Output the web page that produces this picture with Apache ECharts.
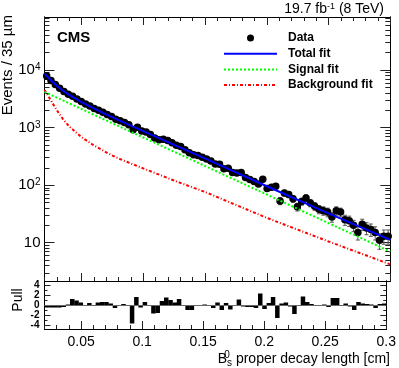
<!DOCTYPE html>
<html>
<head>
<meta charset="utf-8">
<script src="https://cdn.jsdelivr.net/npm/echarts@6/dist/echarts.min.js"></script>
<style>
html, body { margin: 0; padding: 0; background: #fff; }
#chart { width: 399px; height: 368px; }
</style>
</head>
<body>
<div id="chart"></div>
<script>
// binning of the decay length histogram (35 um bins)
var xMin = 0.02, xMax = 0.3, binW = 0.0035;

// events per bin
var dataCounts = [
    7875, 6600, 5602, 4825, 4224, 3791, 3485, 3140, 2826, 2560,
    2364, 2136, 1994, 1841, 1694, 1552, 1398, 1308, 1221, 1124,
    921, 1013, 876, 842, 758, 662, 614, 627, 597, 543,
    492, 471, 410, 364, 337, 328, 305, 285, 262, 233,
    231, 193, 197, 165, 163, 165, 136, 125, 116, 105,
    126, 87, 92, 96, 53, 73, 69, 58, 42, 52,
    60, 49, 43, 38, 36, 34, 28, 36, 34, 25,
    24, 20, 15, 21, 18, 17, 15, 11, 13, 13
];

// pull per bin
var pulls = [
    -0.5, -0.5, -0.5, -0.5, -0.4, 0.1, 1.2, 0.9, 0.5, 0.0,
    0.4, -0.2, 0.5, 0.6, 0.6, 0.3, -0.6, -0.1, 0.2, 0.0,
    -3.7, 1.6, -0.5, 0.6, -0.2, -1.7, -1.6, 0.8, 1.5, 1.0,
    0.5, 1.2, -0.2, -1.0, -1.0, -0.1, 0.0, 0.1, 0.0, -0.6,
    0.5, -1.0, 0.4, -0.9, -0.1, 1.1, -0.3, -0.4, -0.4, -0.6,
    2.3, -0.8, 0.4, 1.6, -2.6, 0.3, 0.5, -0.3, -1.8, 0.0,
    1.7, 0.6, 0.2, -0.1, 0.0, 0.1, -0.4, 1.4, 1.4, 0.0,
    0.3, -0.3, -1.0, 0.6, 0.3, 0.2, 0.1, -0.6, 0.2, 0.3
];

// fit curves, sampled along x
var fitX      = [0.02, 0.025, 0.03, 0.035, 0.04, 0.05, 0.06, 0.07, 0.08, 0.1, 0.125, 0.15, 0.2, 0.25, 0.3];
var totalFit  = [8670, 6720, 5320, 4360, 3690, 2780, 2160, 1700, 1350, 867, 500, 291, 95.6, 32.4, 11.2];
var signalFit = [4170, 3720, 3320, 2960, 2640, 2100, 1670, 1330, 1060, 672, 380, 215, 68.6, 21.9, 7.0];
var bkgFit    = [4500, 3000, 2000, 1400, 1050, 680, 490, 370, 290, 195, 120, 76, 27, 10.5, 4.2];

// ticks
var xMajorTicks = [0.05, 0.1, 0.15, 0.2, 0.25, 0.3];
var xMinorTicks = [0.02, 0.03, 0.04, 0.05, 0.06, 0.07, 0.08, 0.09, 0.1, 0.11, 0.12, 0.13, 0.14, 0.15,
    0.16, 0.17, 0.18, 0.19, 0.2, 0.21, 0.22, 0.23, 0.24, 0.25, 0.26, 0.27, 0.28, 0.29, 0.3];
var yMajorTicks = [10, 100, 1000, 10000];
var yTickExp = ['', '2', '3', '4'];
var yMinorTicks = [3, 4, 5, 6, 7, 8, 9, 20, 30, 40, 50, 60, 70, 80, 90,
    200, 300, 400, 500, 600, 700, 800, 900, 2000, 3000, 4000, 5000, 6000, 7000, 8000, 9000,
    20000, 30000, 40000, 50000, 60000, 70000, 80000];
var yMin = 2.16, yMax = 83400;
var pullMajorTicks = [-4, -2, 0, 2, 4];
var pullMinorTicks = [-3, -1, 1, 3];
var pullMin = -4.8, pullMax = 4.8;

var FONT = '"Liberation Sans", Arial, Helvetica, sans-serif';

var binCenters = dataCounts.map(function (n, i) { return +(xMin + binW * (i + 0.5)).toFixed(5); });
var dataPts = dataCounts.map(function (n, i) { return [binCenters[i], n]; });
var errPts = dataCounts.map(function (n, i) { return [binCenters[i], n, Math.sqrt(n)]; });
var pullPts = pulls.map(function (p, i) { return [binCenters[i], p]; });
function curve(ys) { return fitX.map(function (x, i) { return [x, ys[i]]; }); }

function xAx(grid, pos, ticks, len, label) {
    return {
        type: 'value', gridIndex: grid, position: pos, min: xMin, max: xMax,
        axisLine: { show: true, onZero: false, lineStyle: { color: '#000', width: 1 } },
        axisTick: { show: true, inside: true, length: len, customValues: ticks, lineStyle: { color: '#222' } },
        axisLabel: label || { show: false },
        splitLine: { show: false }
    };
}
function yAx(grid, pos, type, min, max, ticks, len, label) {
    var a = {
        type: type, gridIndex: grid, position: pos, min: min, max: max,
        axisLine: { show: true, onZero: false, lineStyle: { color: '#000', width: 1 } },
        axisTick: { show: true, inside: true, length: len, customValues: ticks, lineStyle: { color: '#222' } },
        axisLabel: label || { show: false },
        splitLine: { show: false }
    };
    if (type === 'log') a.logBase = 10;
    return a;
}

var dom = document.getElementById('chart');
var myChart = echarts.init(dom, null, { renderer: 'canvas' });

var option = {
    animation: false,
    backgroundColor: '#fff',
    textStyle: { fontFamily: FONT },
    grid: [
        { left: 44.5, right: 8.7, top: 17, height: 264 },
        { left: 44.5, right: 8.7, top: 281, height: 48 }
    ],
    xAxis: [
        xAx(0, 'bottom', xMajorTicks, 8),
        xAx(0, 'bottom', xMinorTicks, 4),
        xAx(0, 'top', xMajorTicks, 8),
        xAx(0, 'top', xMinorTicks, 4),
        xAx(1, 'bottom', xMajorTicks, 8, {
            show: true, customValues: xMajorTicks, margin: 6,
            fontFamily: FONT, fontSize: 14, color: '#000'
        }),
        xAx(1, 'bottom', xMinorTicks, 4)
    ],
    yAxis: [
        yAx(0, 'left', 'log', yMin, yMax, yMajorTicks, 10, {
            show: true, customValues: yMajorTicks, margin: 4,
            formatter: function (v) {
                var i = yMajorTicks.indexOf(v);
                return yTickExp[i] ? '{b|10}{s|' + yTickExp[i] + '}' : '{b|10}';
            },
            rich: {
                b: { fontFamily: FONT, fontSize: 15, color: '#000' },
                s: { fontFamily: FONT, fontSize: 10, color: '#000', verticalAlign: 'top' }
            }
        }),
        yAx(0, 'left', 'log', yMin, yMax, yMinorTicks, 5),
        yAx(0, 'right', 'log', yMin, yMax, yMajorTicks, 10),
        yAx(0, 'right', 'log', yMin, yMax, yMinorTicks, 5),
        yAx(1, 'left', 'value', pullMin, pullMax, pullMajorTicks, 6, {
            show: true, customValues: pullMajorTicks, margin: 5,
            fontFamily: FONT, fontSize: 10, fontWeight: 'bold', color: '#000'
        }),
        yAx(1, 'left', 'value', pullMin, pullMax, pullMinorTicks, 3),
        yAx(1, 'right', 'value', pullMin, pullMax, pullMajorTicks, 6),
        yAx(1, 'right', 'value', pullMin, pullMax, pullMinorTicks, 3)
    ],
    legend: {
        orient: 'vertical', left: 223, top: 32, padding: 0,
        itemGap: 3.7, itemWidth: 53, itemHeight: 7,
        selectedMode: false,
        textStyle: { fontFamily: FONT, fontWeight: 'bold', fontSize: 12, color: '#000', padding: [0, 0, 0, 6] },
        data: [
            { name: 'Data', icon: 'circle', itemStyle: { color: '#000', opacity: 1 } },
            { name: 'Total fit', itemStyle: { opacity: 0 } },
            { name: 'Signal fit', itemStyle: { opacity: 0 } },
            { name: 'Background fit', itemStyle: { opacity: 0 } }
        ]
    },
    graphic: [
        { type: 'text', x: 57, y: 38, style: { text: 'CMS', fontFamily: FONT, fontWeight: 'bold', fontSize: 15, fill: '#000', verticalAlign: 'middle' } },
        {
            type: 'text', x: 384, y: 9,
            style: {
                text: '{n|19.7 fb}{p|-1}{n| (8 TeV)}', align: 'right', verticalAlign: 'middle',
                rich: {
                    n: { fontFamily: FONT, fontSize: 14, fill: '#000' },
                    p: { fontFamily: FONT, fontSize: 9, fill: '#000', verticalAlign: 'top' }
                }
            }
        },
        {
            type: 'text', x: 8, y: 15, rotation: Math.PI / 2,
            style: { text: 'Events / 35 \u00b5m', fontFamily: FONT, fontSize: 15, fill: '#000', align: 'right', verticalAlign: 'middle' }
        },
        {
            type: 'text', x: 18.5, y: 300, rotation: Math.PI / 2,
            style: { text: 'Pull', fontFamily: FONT, fontSize: 14, fill: '#000', align: 'center', verticalAlign: 'middle' }
        },
        {
            type: 'text', x: 390, y: 359,
            style: {
                text: '{b|B}{p|0}{d|s}{b| proper decay length [cm]}', align: 'right', verticalAlign: 'middle',
                rich: {
                    b: { fontFamily: FONT, fontSize: 14, lineHeight: 18, fill: '#000' },
                    p: { fontFamily: FONT, fontSize: 10, lineHeight: 10, fill: '#000', verticalAlign: 'top', align: 'left', width: 0.01 },
                    d: { fontFamily: FONT, fontSize: 10, lineHeight: 10, fill: '#000', verticalAlign: 'bottom', align: 'left' }
                }
            }
        }
    ],
    series: [
        {
            name: 'Data err', type: 'custom', xAxisIndex: 0, yAxisIndex: 0, z: 2, clip: true,
            data: errPts,
            renderItem: function (params, api) {
                var x = api.value(0), n = api.value(1), e = api.value(2);
                var top = api.coord([x, n + e]);
                var bot = api.coord([x, Math.max(n - e, 0.5)]);
                var st = { stroke: '#555', lineWidth: 1 };
                return {
                    type: 'group', children: [
                        { type: 'line', shape: { x1: top[0], y1: top[1], x2: bot[0], y2: bot[1] }, style: st },
                        { type: 'line', shape: { x1: top[0] - 2, y1: top[1], x2: top[0] + 2, y2: top[1] }, style: st },
                        { type: 'line', shape: { x1: bot[0] - 2, y1: bot[1], x2: bot[0] + 2, y2: bot[1] }, style: st }
                    ]
                };
            }
        },
        {
            name: 'Data', type: 'scatter', xAxisIndex: 0, yAxisIndex: 0, z: 3,
            symbol: 'circle', symbolSize: 7.5,
            itemStyle: { color: '#000', opacity: 1 },
            data: dataPts
        },
        {
            name: 'Background fit', type: 'line', xAxisIndex: 0, yAxisIndex: 0, z: 4,
            showSymbol: false, symbol: 'none',
            lineStyle: { color: '#ff0000', width: 2, type: [3, 2, 1, 2] },
            itemStyle: { color: '#ff0000' },
            data: curve(bkgFit)
        },
        {
            name: 'Signal fit', type: 'line', xAxisIndex: 0, yAxisIndex: 0, z: 5,
            showSymbol: false, symbol: 'none',
            lineStyle: { color: '#00ff00', width: 2, type: [2, 2] },
            itemStyle: { color: '#00ff00' },
            data: curve(signalFit)
        },
        {
            name: 'Total fit', type: 'line', xAxisIndex: 0, yAxisIndex: 0, z: 6,
            showSymbol: false, symbol: 'none',
            lineStyle: { color: '#0000ff', width: 2 },
            itemStyle: { color: '#0000ff' },
            data: curve(totalFit)
        },
        {
            name: 'Pull', type: 'bar', xAxisIndex: 4, yAxisIndex: 4,
            barWidth: 4.5,
            itemStyle: { color: '#000' },
            markLine: {
                silent: true, symbol: 'none', label: { show: false },
                lineStyle: { color: '#666', width: 1, type: 'solid' },
                data: [{ yAxis: 0 }]
            },
            data: pullPts
        }
    ]
};

if (option && typeof option === "object") {
    myChart.setOption(option, true);
}

window.addEventListener("resize", function () {
    myChart.resize();
});
</script>
</body>
</html>
